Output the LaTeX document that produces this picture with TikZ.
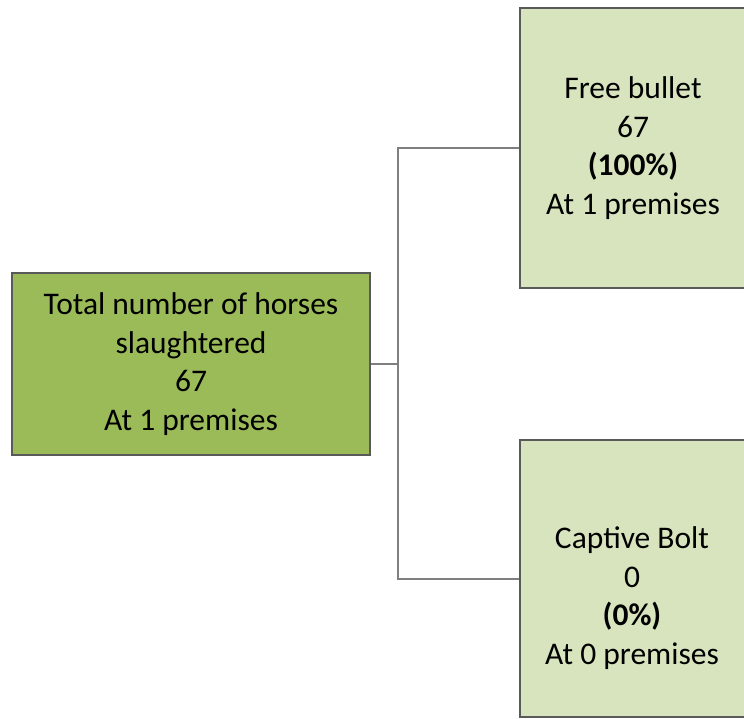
\documentclass[tikz,border=0pt]{standalone}
\usepackage{fontspec}
\setmainfont{Carlito}
\definecolor{darkolive}{HTML}{9BBB59}
\definecolor{paleolive}{HTML}{D7E4BD}
\definecolor{boxline}{HTML}{595959}
\definecolor{joinline}{HTML}{7F7F7F}
\begin{document}
\begin{tikzpicture}[x=1pt, y=1pt, main box/.style={rectangle,draw=boxline,line width=1.5pt,inner sep=0pt,align=center,font=\fontsize{31.5}{38.5}\selectfont},
 label text/.style={align=center,inner sep=0pt,font=\fontsize{31.5}{38.5}\selectfont}]
\useasboundingbox (0,0) rectangle (744,718);
\begin{scope}
\node[main box, fill=darkolive, minimum width=358pt, minimum height=182pt] (total) at (191,354) {Total number of horses\\slaughtered\\67\\At 1 premises};%left
\node[main box, fill=paleolive, minimum width=226pt, minimum height=280pt] (bullet) at (633,570) {Free bullet\\67\\\textbf{(100\%)}\\At 1 premises};%top
\node[main box, fill=paleolive, minimum width=226pt, minimum height=277pt] (bolt) at (633,139.5) {};%bottom
\node[label text] (boltlabel) at (632,120) {Captive Bolt\\0\\\textbf{(0\%)}\\At 0 premises};
\coordinate (split) at (398,354);
\end{scope}
\begin{scope}[every path/.style={draw=joinline,line width=2pt}]
\draw (total.east) -- (split);
\draw (split) |- (bullet.west);
\draw (split) |- (bolt.west);
\end{scope}
\end{tikzpicture}
\end{document}
